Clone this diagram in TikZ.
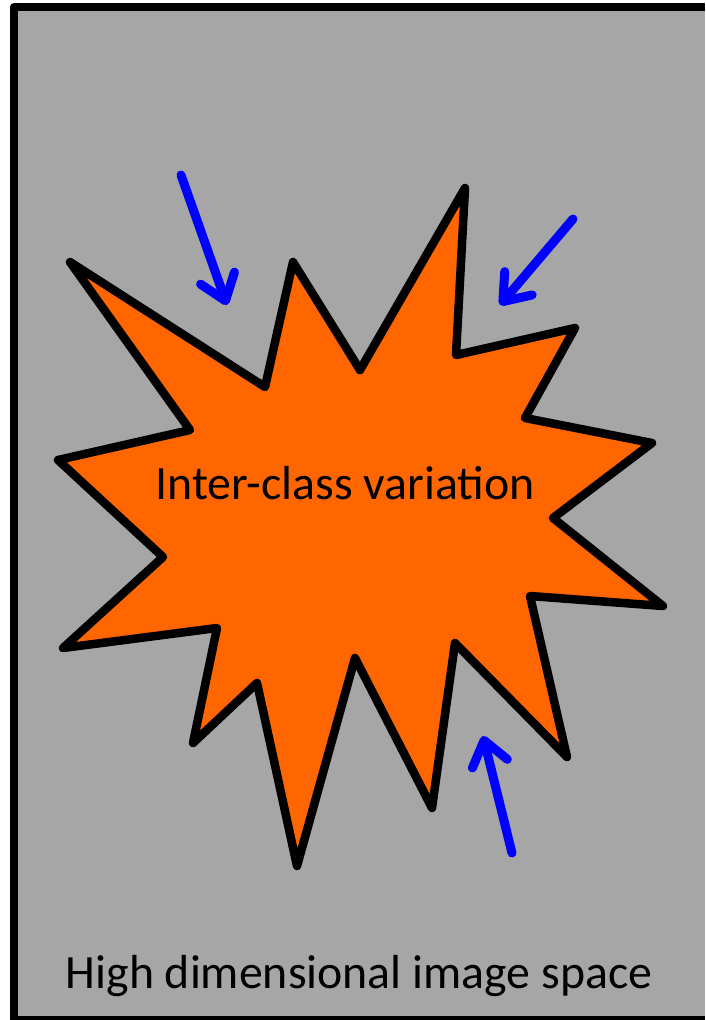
\documentclass[tikz,border=0pt]{standalone}
\usepackage{fontspec}
\setmainfont{Carlito}
\usetikzlibrary{arrows.meta}
\definecolor{spacegray}{HTML}{A6A6A6}
\definecolor{burst}{HTML}{FF6600}
\definecolor{pushblue}{HTML}{0000FF}
\tikzset{
  frame/.style={draw=black, line width=8pt, line join=round},
  burstshape/.style={draw=black, fill=burst, line width=8.5pt, line join=round},
  push/.style={draw=pushblue, line width=9pt, line cap=round, line join=round,
    -{Straight Barb[length=24pt, width=36pt, round]}},
  label/.style={font=\fontsize{47.8}{52}\selectfont, text=black, inner sep=0pt, anchor=base}
}
\begin{document}
\begin{tikzpicture}[x=1pt, y=-1pt]
\useasboundingbox (0,0) rectangle (705,1020);
\begin{scope}
\clip (0,0) rectangle (705,1020);
\fill[spacegray] (14,7) rectangle (705,1020);
\draw[frame] (705,7) -- (14,7) -- (14,1020) -- (705,1020);
\end{scope}
\draw[burstshape] (70,262) -- (265,387) -- (293,262) -- (360,370) -- (465,188)
  -- (456,355) -- (575,328) -- (525,418) -- (652,443) -- (553,518) -- (663,606)
  -- (530,596) -- (567,757) -- (455,643) -- (432,808) -- (355,658) -- (297,866)
  -- (257,683) -- (193,743) -- (217,628) -- (63,648) -- (163,557) -- (58,460)
  -- (190,430) -- cycle;
\node[label] (inter) at (345,499) {Inter-class variation};
\node[label] (space) at (359,988) {High dimensional image space};
\coordinate (a1s) at (181,175); \coordinate (a1e) at (227,305);
\coordinate (a2s) at (573,219); \coordinate (a2e) at (500,305);
\coordinate (a3s) at (512,853); \coordinate (a3e) at (483,736);
\draw[push] (a1s) -- (a1e);
\draw[push] (a2s) -- (a2e);
\draw[push] (a3s) -- (a3e);
\end{tikzpicture}
\end{document}
